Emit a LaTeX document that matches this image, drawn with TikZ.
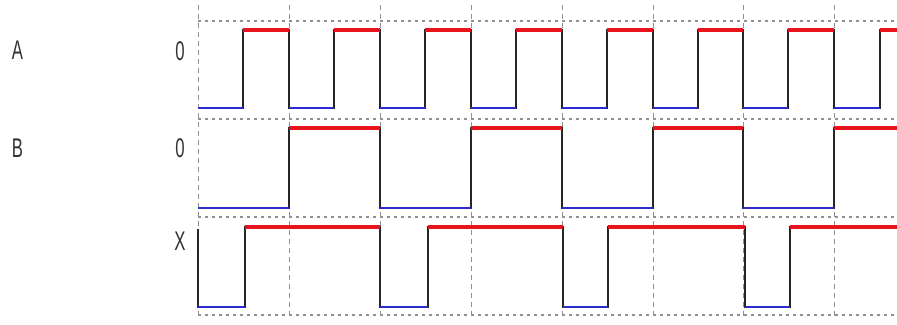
\documentclass[tikz,border=0pt]{standalone}
\usepackage{fontspec}
\setmainfont{Liberation Sans}
\definecolor{gridgray}{HTML}{909090}
\definecolor{sigred}{HTML}{E8141C}
\definecolor{sigblue}{HTML}{2B2BD0}
\tikzset{
  lbl/.style={inner sep=0pt, font=\fontsize{27}{27}\selectfont, text=black!80},
  vgrid/.style={draw=gridgray, line width=1pt, dash pattern=on 5pt off 4pt},
  hgrid/.style={draw=gridgray, line width=2.6pt, dash pattern=on 3pt off 4pt},
  edge/.style={draw=black!85, line width=1.5pt},
  hi/.style={draw=sigred, line width=4.5pt},
  lo/.style={draw=sigblue, line width=2.4pt},
}
\newcommand{\nar}[1]{\scalebox{0.62}[1]{#1}}
\begin{document}
\begin{tikzpicture}[x=1pt,y=-1pt]
\fill[white] (0,0) rectangle (897,324);
\useasboundingbox (0,0) rectangle (897,324);
% grid
\foreach \gx in {198,289,380,471,562,653,743,834}
  \draw[vgrid] (\gx,5) -- (\gx,316);
\foreach \gy in {21,119,217,315}
  \draw[hgrid] (198,\gy) -- (897,\gy);
% labels
\node[lbl] (la) at (17.5,50) {\nar{A}};
\node[lbl] (lb) at (17.5,148) {\nar{B}};
\node[lbl] (za) at (180,51) {\nar{0}};
\node[lbl] (zb) at (180,148) {\nar{0}};
\node[lbl] (lx) at (180,241) {\nar{X}};
% signal A: high 30, low 108
\draw[edge] (198,108) -- (243,108) -- (243,30) -- (289,30) -- (289,108)
  -- (334,108) -- (334,30) -- (380,30) -- (380,108)
  -- (425,108) -- (425,30) -- (471,30) -- (471,108)
  -- (516,108) -- (516,30) -- (562,30) -- (562,108)
  -- (607,108) -- (607,30) -- (653,30) -- (653,108)
  -- (698,108) -- (698,30) -- (743,30) -- (743,108)
  -- (788,108) -- (788,30) -- (834,30) -- (834,108)
  -- (880,108) -- (880,30) -- (897,30);
\foreach \a/\b in {243/289,334/380,425/471,516/562,607/653,698/743,788/834,880/897}
  \draw[hi] (\a,30) -- (\b,30);
\foreach \a/\b in {198/243,289/334,380/425,471/516,562/607,653/698,743/788,834/880}
  \draw[lo] (\a,108) -- (\b,108);
% signal B: high 128, low 208
\draw[edge] (198,208) -- (289,208) -- (289,128) -- (380,128) -- (380,208)
  -- (471,208) -- (471,128) -- (562,128) -- (562,208)
  -- (653,208) -- (653,128) -- (743,128) -- (743,208)
  -- (834,208) -- (834,128) -- (897,128);
\foreach \a/\b in {289/380,471/562,653/743,834/897}
  \draw[hi] (\a,128) -- (\b,128);
\foreach \a/\b in {198/289,380/471,562/653,743/834}
  \draw[lo] (\a,208) -- (\b,208);
% signal X: high 227, low 307
\draw[edge] (198,229) -- (198,307) -- (245,307) -- (245,227) -- (380,227) -- (380,307)
  -- (428,307) -- (428,227) -- (563,227) -- (563,307)
  -- (608,307) -- (608,227) -- (745,227) -- (745,307)
  -- (790,307) -- (790,227) -- (897,227);
\foreach \a/\b in {245/380,428/563,608/745,790/897}
  \draw[hi] (\a,227) -- (\b,227);
\foreach \a/\b in {198/245,380/428,563/608,745/790}
  \draw[lo] (\a,307) -- (\b,307);
\end{tikzpicture}
\end{document}
